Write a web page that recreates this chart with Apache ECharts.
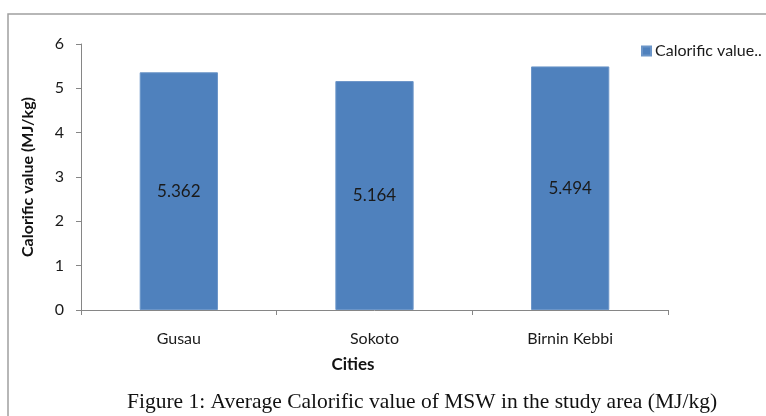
<!DOCTYPE html>
<html>
<head>
<meta charset="utf-8">
<script src="https://cdn.jsdelivr.net/npm/echarts@6/dist/echarts.min.js"></script>
<style>
  html, body { margin: 0; padding: 0; background: #fff; }
  #chart { width: 766px; height: 416px; }
</style>
</head>
<body>
<div id="chart"></div>
<script>
// cities and average calorific value (MJ/kg)
const cities = ['Gusau', 'Sokoto', 'Birnin Kebbi']
const calorific = [5.362, 5.164, 5.494]
const yTicks = [0, 1, 2, 3, 4, 5, 6]

const font = 'Lato, "Open Sans", sans-serif'
const axisGrey = '#868686'

const chart = echarts.init(document.getElementById('chart'))

chart.setOption({
  backgroundColor: '#fff',
  animation: false,
  title: {
    text: 'Figure 1: Average Calorific value of MSW in the study area (MJ/kg)',
    left: 417,
    textAlign: 'center',
    top: 386,
    textStyle: {
      fontFamily: '"Liberation Serif", "DejaVu Serif", serif',
      fontSize: 21.5,
      fontWeight: 'normal',
      color: '#111'
    }
  },
  graphic: [{
    type: 'rect',
    shape: { x: 8, y: 14, width: 800, height: 500 },
    style: { fill: 'none', stroke: '#a0a0a0', lineWidth: 1.5 },
    silent: true
  }],
  legend: {
    data: ['Calorific value..'],
    left: 636,
    top: 38,
    icon: 'rect',
    itemWidth: 9,
    itemHeight: 9,
    itemGap: 4,
    textStyle: { fontFamily: font, fontSize: 16, color: '#1a1a1a', padding: [0, 0, 0, -1] }
  },
  grid: { left: 81, right: 98, top: 44, bottom: 106 },
  xAxis: {
    type: 'category',
    data: cities,
    name: 'Cities',
    nameLocation: 'middle',
    nameGap: 46,
    nameTextStyle: {
      fontFamily: font, fontSize: 17, fontWeight: 'bold', color: '#111',
      padding: [0, 43, 0, 0]
    },
    axisLine: { lineStyle: { color: axisGrey, width: 1 } },
    axisTick: { show: true, length: 5, lineStyle: { color: axisGrey } },
    axisLabel: { fontFamily: font, fontSize: 16, color: '#1a1a1a', margin: 21 },
    splitLine: { show: false }
  },
  yAxis: {
    type: 'value',
    min: yTicks[0],
    max: yTicks[yTicks.length - 1],
    interval: 1,
    name: 'Calorific value (MJ/kg)',
    nameLocation: 'middle',
    nameGap: 45,
    nameTextStyle: { fontFamily: font, fontSize: 16, fontWeight: 'bold', color: '#111' },
    axisLine: { show: true, lineStyle: { color: axisGrey, width: 1 } },
    axisTick: { show: true, length: 5, lineStyle: { color: axisGrey } },
    axisLabel: { fontFamily: font, fontSize: 16, color: '#1a1a1a', margin: 17 },
    splitLine: { show: false }
  },
  series: [{
    name: 'Calorific value..',
    type: 'bar',
    data: calorific,
    barWidth: '40%',
    itemStyle: { color: '#4f81bd', borderColor: '#6b95c8', borderWidth: 1 },
    label: {
      show: true,
      position: 'inside',
      fontFamily: font,
      fontSize: 17,
      color: '#1a1a1a',
      formatter: (p) => p.value.toFixed(3)
    }
  }]
})
</script>
</body>
</html>
